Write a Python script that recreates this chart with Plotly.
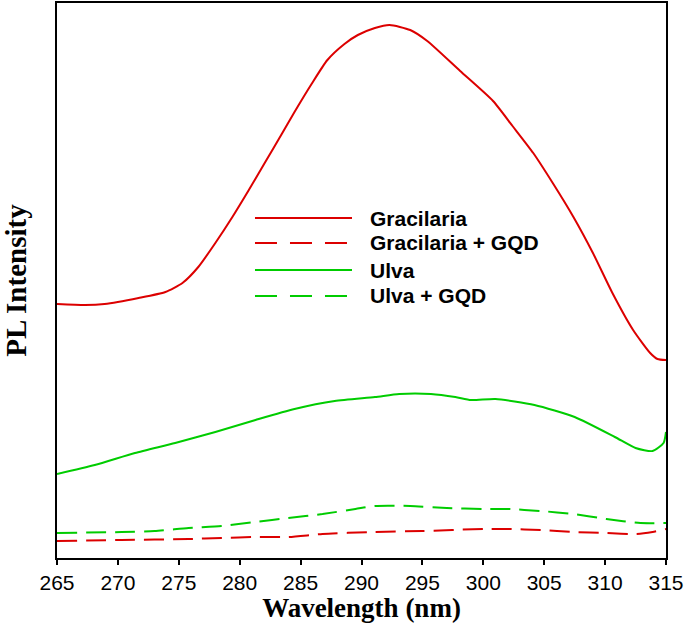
import plotly.graph_objects as go

# ---- data (arbitrary PL intensity units) ----
grac_wl = [265, 267.3, 268.9, 271.7, 273.9, 275.3, 276.6, 278, 279.4, 280.7, 282.1, 283.5,
           284.5, 285.9, 287.2, 288.6, 289.7, 291.1, 292.3, 294, 295.4, 298.1, 300.8, 302.4,
           304.1, 305.7, 307.4, 309, 310.6, 312.3, 313.7, 314.3, 315]
grac_pl = [254, 253, 254, 260, 266, 275, 291, 315, 341, 367, 396, 425,
           446, 474, 498, 514, 523, 530, 533, 528, 517, 487, 457, 432,
           405, 375, 341, 305, 265, 228, 205, 199, 198]

grac_gqd_wl = [265, 270.3, 275.8, 278.5, 281.3, 284, 286.8, 290.9, 295, 300, 302, 304.7,
               307.4, 310.1, 312.6, 313.9, 315]
grac_gqd_pl = [17, 18, 19, 20, 21, 21, 24, 26, 27, 29, 29, 28,
               26, 25, 24, 26, 29]

ulva_wl = [265, 268.1, 271.4, 274.7, 278, 281.3, 284.5, 287.8, 291.1, 293.1, 295.7, 297.7,
           299, 301, 304.2, 307.5, 310.8, 312.5, 313.9, 314.8, 315]
ulva_pl = [84, 93, 105, 115, 126, 138, 149, 157, 161, 164, 164, 161,
           158, 159, 153, 141, 121, 110, 107, 115, 126]

ulva_gqd_wl = [265, 270.3, 273, 275.8, 278.5, 281.3, 284, 286.8, 289.5, 291.1, 294, 297,
               300, 302, 304.7, 307.4, 310.1, 312.9, 315]
ulva_gqd_pl = [25, 26, 27, 30, 32, 36, 40, 44, 49, 52, 52, 50,
               49, 49, 47, 44, 39, 35, 35]

x_ticks = [265, 270, 275, 280, 285, 290, 295, 300, 305, 310, 315]

series_names = ["Gracilaria", "Gracilaria + GQD", "Ulva", "Ulva + GQD"]
RED = "#dc0000"
GREEN = "#00cc00"
colors = [RED, RED, GREEN, GREEN]
dashes = ["solid", "20px,9px", "solid", "20px,9px"]
legend_dashes = ["solid", "22px,13px", "solid", "22px,13px"]

data = [(grac_wl, grac_pl), (grac_gqd_wl, grac_gqd_pl), (ulva_wl, ulva_pl), (ulva_gqd_wl, ulva_gqd_pl)]

fig = go.Figure()
for (wl, pl), name, c, d in zip(data, series_names, colors, dashes):
    fig.add_trace(go.Scatter(x=wl, y=pl, mode="lines", name=name,
                             line=dict(color=c, width=2, dash=d, shape="spline", smoothing=0.6),
                             showlegend=False))

# custom legend (long sample lines, as in the reference)
leg_rows = [0.6126, 0.5676, 0.5189, 0.4721]
for name, c, d, yy in zip(series_names, colors, legend_dashes, leg_rows):
    fig.add_shape(type="line", xref="paper", yref="paper", x0=0.3251, x1=0.4844, y0=yy, y1=yy,
                  line=dict(color=c, width=2, dash=d))
    fig.add_annotation(xref="paper", yref="paper", x=0.5107, y=yy, text=f"<b>{name}</b>",
                       showarrow=False, xanchor="left", yanchor="middle",
                       font=dict(family="Liberation Sans, Arial", size=21, color="black"))

fig.update_layout(
    width=685, height=623,
    margin=dict(l=57, r=19, t=3, b=65, autoexpand=False),
    paper_bgcolor="white", plot_bgcolor="white",
    font=dict(family="Liberation Sans, Arial", color="black"),
    xaxis=dict(range=[265, 315], tickvals=x_ticks, ticktext=[str(t) for t in x_ticks],
               ticks="outside", ticklen=5, tickwidth=2, tickcolor="black",
               showline=True, linecolor="black", linewidth=2, mirror=True,
               showgrid=False, zeroline=False,
               tickfont=dict(family="Liberation Sans, Arial", size=21, color="black"),
               title=dict(text="<b>Wavelength (nm)</b>", standoff=3,
                          font=dict(family="Liberation Serif, Times New Roman", size=27, color="black"))),
    yaxis=dict(range=[0, 555], showticklabels=False, ticks="",
               showline=True, linecolor="black", linewidth=2, mirror=True,
               showgrid=False, zeroline=False,
               title=dict(text="<b>PL Intensity</b>", standoff=20,
                          font=dict(family="Liberation Serif, Times New Roman", size=29, color="black"))),
)

fig.write_html("out.html", config={"displayModeBar": False},
               post_script="document.body.style.margin='0px';document.body.style.overflow='hidden';")
